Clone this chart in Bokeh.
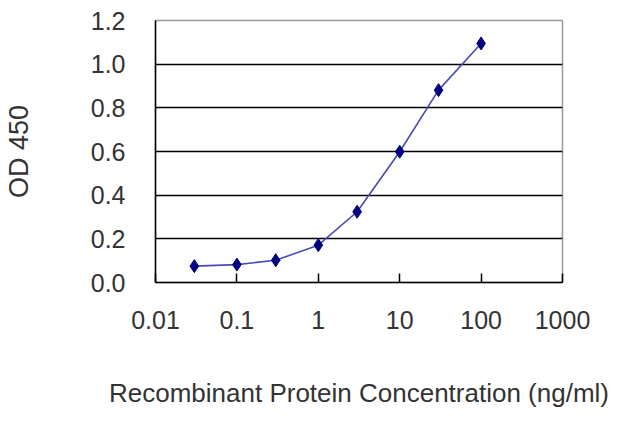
from bokeh.plotting import figure
from bokeh.models import FixedTicker, CustomJSTickFormatter, NumeralTickFormatter
from bokeh.embed import file_html
from bokeh.resources import INLINE

# concentration (ng/ml) and OD 450
conc = [0.03, 0.1, 0.3, 1, 3, 10, 30, 100]
od450 = [0.075, 0.082, 0.102, 0.171, 0.324, 0.599, 0.881, 1.095]

x_ticks = [0.01, 0.1, 1, 10, 100, 1000]
y_ticks = [0.0, 0.2, 0.4, 0.6, 0.8, 1.0, 1.2]

FONT = "Liberation Sans"
TXT = "#333333"

p = figure(width=624, height=411, x_axis_type="log",
           x_range=(0.01, 1000), y_range=(0, 1.2),
           output_backend="svg", toolbar_location=None,
           min_border_left=153, min_border_right=62,
           min_border_top=20, min_border_bottom=129)
p.background_fill_color = "white"
p.border_fill_color = "white"
p.outline_line_color = "#9a9a9a"
p.outline_line_width = 1.5

p.line(conc, od450, line_color="#4a4ab4", line_width=1.6)
p.scatter(conc, od450, marker="diamond", size=13,
          fill_color="#000080", line_color="#000080")

# grid
p.xgrid.visible = False
p.ygrid.ticker = FixedTicker(ticks=y_ticks[1:-1])
p.ygrid.grid_line_color = "black"
p.ygrid.grid_line_width = 1.5

# x axis
xa = p.xaxis[0]
xa.ticker = FixedTicker(ticks=x_ticks, minor_ticks=[])
xa.formatter = CustomJSTickFormatter(code="return tick.toString()")
xa.axis_line_color = "black"
xa.axis_line_width = 1.5
xa.major_tick_in = 9
xa.major_tick_out = 0
xa.major_tick_line_color = "black"
xa.major_tick_line_width = 1.5
xa.minor_tick_line_color = None
xa.major_label_text_font = FONT
xa.major_label_text_font_size = "25px"
xa.major_label_text_color = TXT
xa.major_label_standoff = 28
xa.axis_label = "Recombinant Protein Concentration (ng/ml)"
xa.axis_label_text_font = FONT
xa.axis_label_text_font_size = "26px"
xa.axis_label_text_font_style = "normal"
xa.axis_label_text_color = TXT
xa.axis_label_standoff = 46

# y axis
ya = p.yaxis[0]
ya.ticker = FixedTicker(ticks=y_ticks, minor_ticks=[])
ya.formatter = NumeralTickFormatter(format="0.0")
ya.axis_line_color = "black"
ya.axis_line_width = 1.5
ya.major_tick_in = 0
ya.major_tick_out = 0
ya.minor_tick_line_color = None
ya.major_label_text_font = FONT
ya.major_label_text_font_size = "25px"
ya.major_label_text_color = TXT
ya.major_label_standoff = 30
ya.axis_label = "OD 450"
ya.axis_label_text_font = FONT
ya.axis_label_text_font_size = "27px"
ya.axis_label_text_font_style = "normal"
ya.axis_label_text_color = TXT
ya.axis_label_standoff = 54

open("out.html", "w").write(file_html(p, INLINE))
